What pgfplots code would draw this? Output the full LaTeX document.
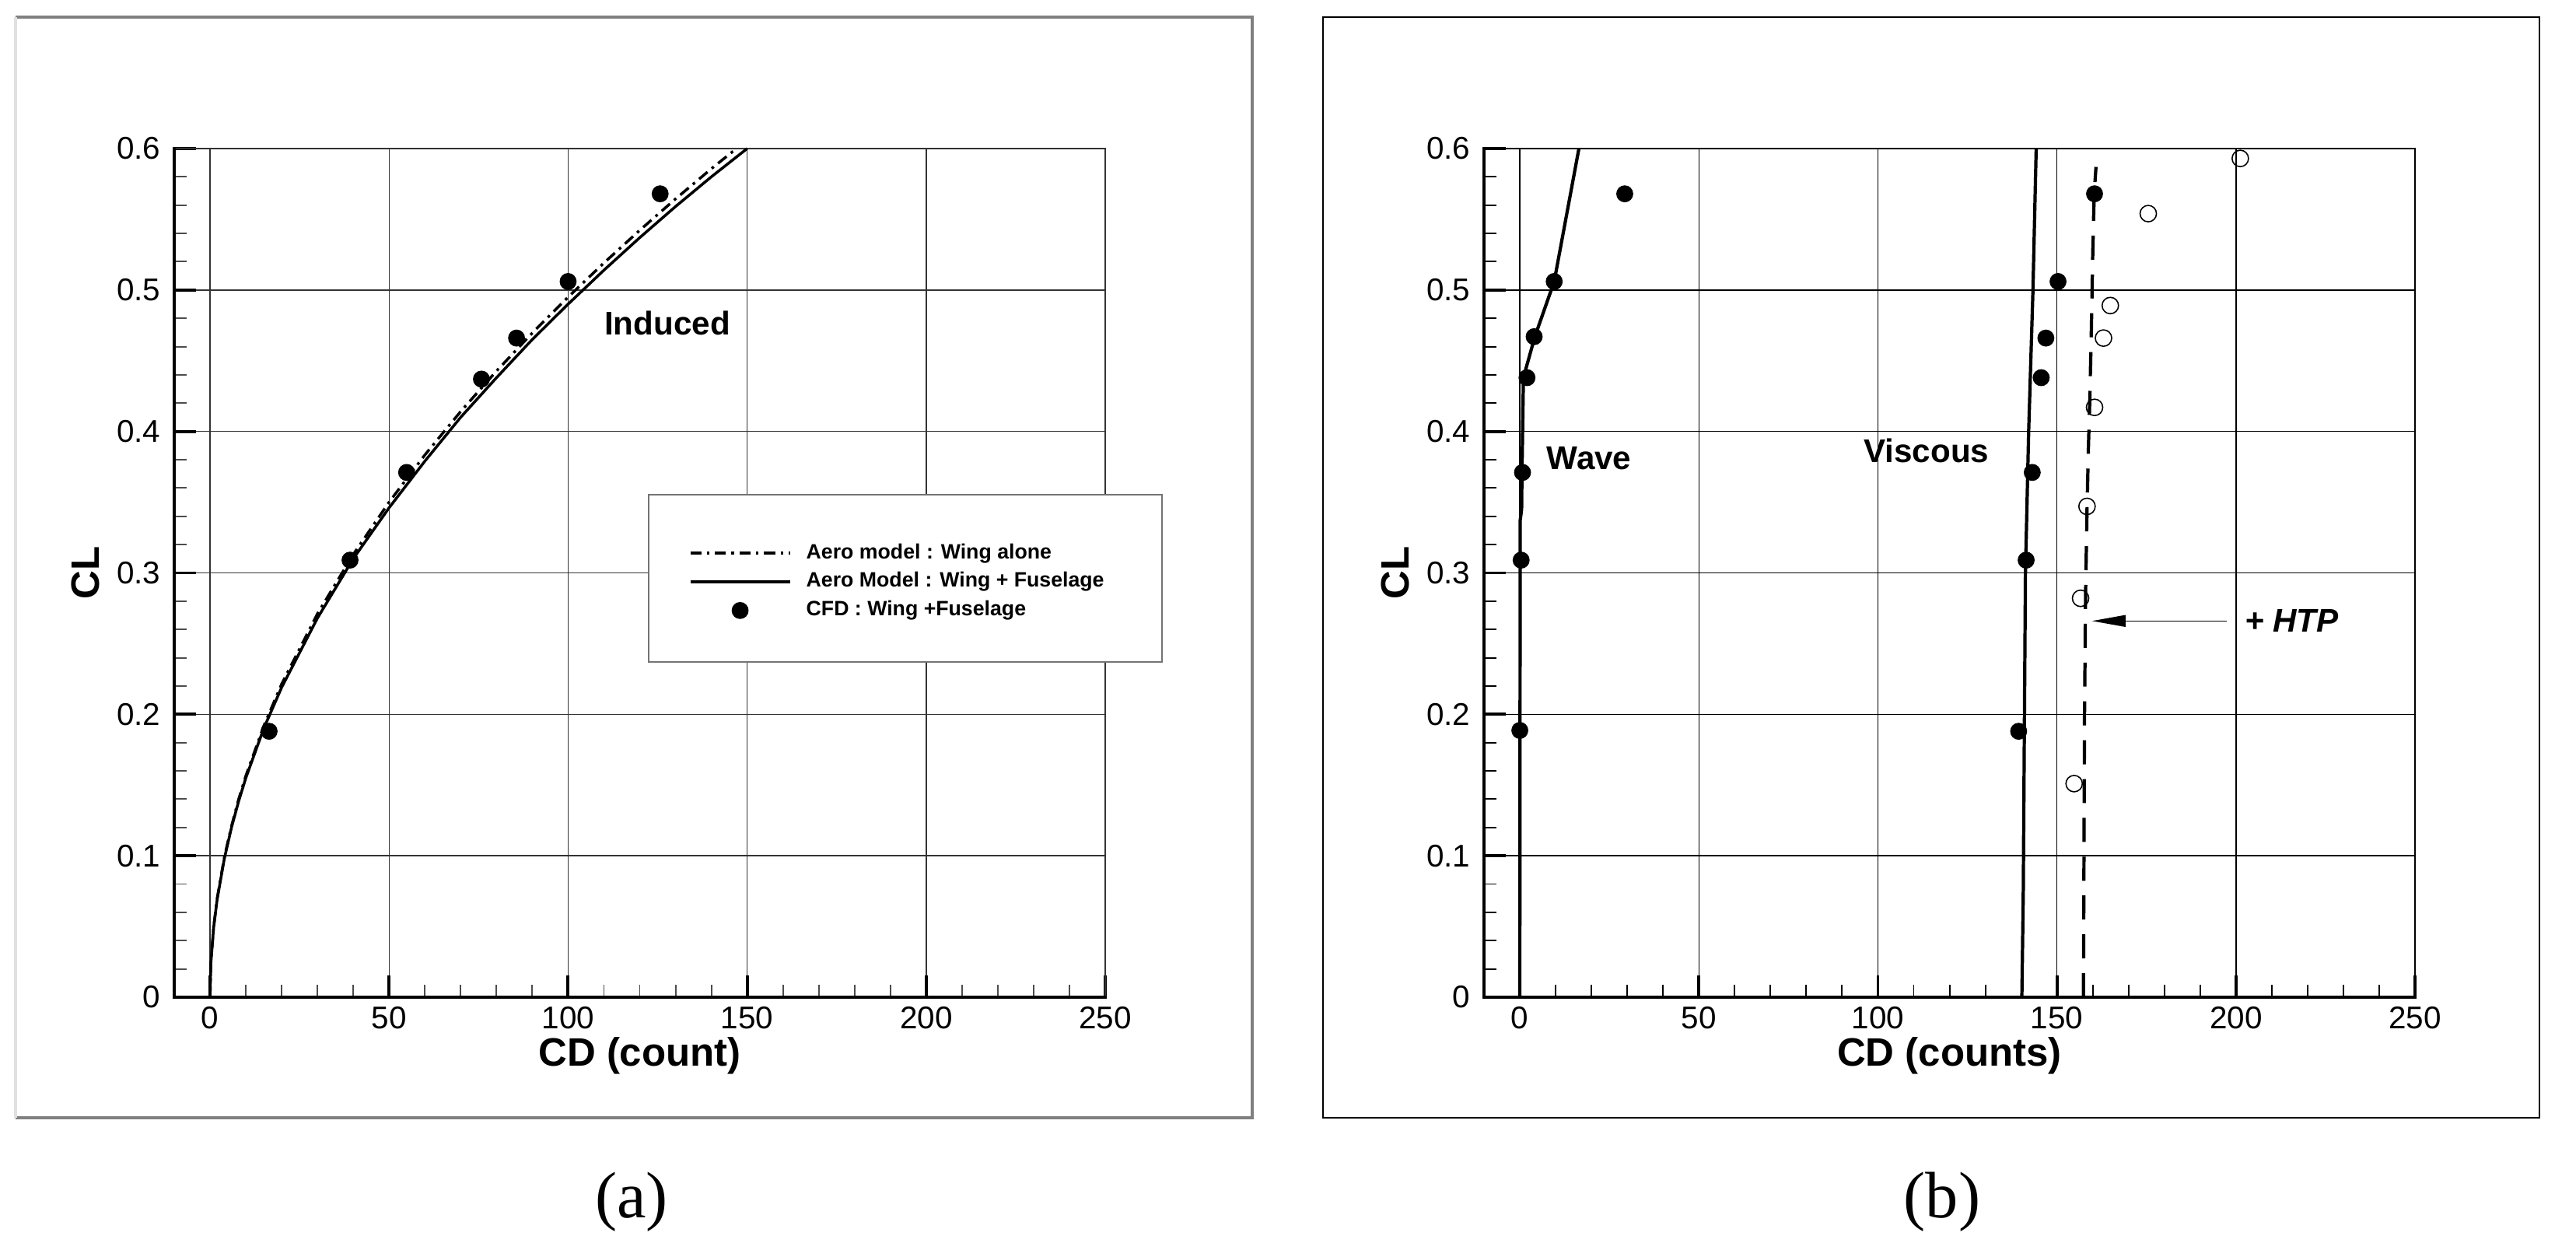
\documentclass[border=0pt]{standalone}
\usepackage{fontspec}
\setmainfont{Liberation Sans}
\newfontfamily\capfont{Liberation Serif}
\usepackage{pgfplots}
\pgfplotsset{compat=1.18}
\usetikzlibrary{arrows.meta}

\tikzset{notes/.style={font=\bfseries\fontsize{12}{14}\selectfont, inner sep=0pt}}

\pgfplotsset{
  dragaxis/.style={
    scale only axis, width=11.97cm, height=10.91cm,
    xmin=-10, xmax=250, ymin=0, ymax=0.6,
    xtick={0,50,100,150,200,250},
    xticklabels={0,50,100,150,200,250},
    ytick={0,0.1,0.2,0.3,0.4,0.5,0.6},
    yticklabels={0,0.1,0.2,0.3,0.4,0.5,0.6},
    minor xtick={10,20,30,40,60,70,80,90,110,120,130,140,160,170,180,190,210,220,230,240},
    minor ytick={0.02,0.04,0.06,0.08,0.12,0.14,0.16,0.18,0.22,0.24,0.26,0.28,
      0.32,0.34,0.36,0.38,0.42,0.44,0.46,0.48,0.52,0.54,0.56,0.58},
    xtick pos=bottom, ytick pos=left, tick align=inside,
    axis line style={line width=0.4pt},
    extra description/.code={
      \draw[line width=1.1pt, line cap=rect] (rel axis cs:0,1) -- (rel axis cs:0,0) -- (rel axis cs:1,0);
    },
    major tick length=0.28cm, minor tick length=0.16cm,
    major tick style={line width=1.1pt, black},
    minor tick style={line width=0.55pt, black},
    grid=major,
    major grid style={line width=0.4pt, black},
    tick label style={font=\fontsize{11.5}{13}\selectfont},
    yticklabel style={xshift=-1.5pt},
    xlabel style={at={(axis description cs:0.5,-0.0687)}, anchor=center,
      font=\bfseries\fontsize{14.5}{16}\selectfont},
    ylabel style={at={(axis description cs:-0.0952,0.5)}, anchor=center,
      font=\bfseries\fontsize{14.5}{16}\selectfont},
    clip=false,
  },
}

\begin{document}
\begin{tikzpicture}
\useasboundingbox (0,0) rectangle (33.12,15.89);
% panel frames
\draw[black!50, line width=0.9pt] (0.20,15.67) -- (16.10,15.67) -- (16.10,1.52) -- (0.20,1.52);
\draw[black!12, line width=0.9pt] (0.20,15.67) -- (0.20,1.52);
\draw[black, line width=0.7pt] (17.01,1.52) rectangle (32.65,15.67);

% (a) induced drag
\begin{axis}[dragaxis, at={(2.24cm,3.07cm)}, anchor=south west,
  xlabel={CD (count)}, ylabel={CL},
  major grid style={line width=0.4pt, black!80},
  minor tick style={line width=0.55pt, black!70},
  axis line style={line width=0.4pt, black!80},
  legend cell align=left,
  legend style={at={(axis cs:133.6,0.2937)}, anchor=west, draw=none, fill=none,
    inner sep=0pt, font=\bfseries\fontsize{7.6}{8}\selectfont,
    row sep=1.5pt, column sep=4.5pt, nodes={inner sep=1pt}},
  legend image code/.code={\draw[mark repeat=2,mark phase=2,#1]
    plot coordinates {(0cm,0cm) (0.64cm,0cm) (1.28cm,0cm)};},
]
\draw[black!55, fill=white, line width=0.6pt]
  (axis cs:122.5,0.3553) rectangle (axis cs:265.9,0.237);

\addplot[black, line width=1pt, dash pattern=on 4pt off 2pt on 1pt off 2pt] coordinates {
  (0,0) (0.25,0.0247) (1,0.0495) (2,0.070) (4,0.099) (6,0.121) (8,0.140)
  (10,0.1565) (15,0.1917) (20,0.2214) (30,0.2711) (40,0.313) (50,0.350)
  (60,0.3834) (70,0.4141) (80,0.4427) (90,0.4696) (100,0.495) (110,0.5191)
  (120,0.5422) (130,0.5644) (140,0.5857) (147,0.600)
};
\addlegendentry{Aero model : Wing alone}

\addplot[black, line width=1pt] coordinates {
  (0,0) (0.25,0.0245) (1,0.049) (2,0.0693) (4,0.098) (6,0.120) (8,0.1386)
  (10,0.155) (15,0.190) (20,0.219) (30,0.268) (40,0.310) (50,0.346)
  (60,0.379) (70,0.410) (80,0.438) (90,0.465) (100,0.490) (110,0.514)
  (120,0.537) (130,0.559) (140,0.580) (150,0.600)
};
\addlegendentry{Aero Model : Wing + Fuselage}

\addplot[only marks, mark=*, mark size=2.9pt, black] coordinates {
  (16.5,0.188) (39.1,0.309) (54.9,0.371) (75.8,0.437) (85.6,0.466)
  (100,0.506) (125.7,0.568)
};
\addlegendentry{CFD : Wing +Fuselage}

\node[notes, anchor=west] at (axis cs:110,0.4765) {Induced};
\end{axis}

% (b) wave, viscous and HTP drag
\begin{axis}[dragaxis, at={(19.08cm,3.07cm)}, anchor=south west,
  xlabel={CD (counts)}, ylabel={CL}]
% wave
\addplot[black, line width=1.2pt] coordinates {
  (0,0) (0.1,0.337) (0.5,0.345) (0.6,0.37) (1.0,0.438) (4.2,0.467)
  (9.6,0.506) (16.5,0.6)
};
\addplot[only marks, mark=*, mark size=2.9pt, black] coordinates {
  (0,0.1886) (0.37,0.309) (0.75,0.371) (2.0,0.438) (4.0,0.467)
  (9.6,0.506) (29.3,0.568)
};
% viscous
\addplot[black, line width=1.2pt] coordinates {
  (140.2,0) (140.6,0.075) (140.9,0.19) (141.2,0.30) (142.1,0.40)
  (143.3,0.50) (144.2,0.6)
};
\addplot[only marks, mark=*, mark size=2.9pt, black] coordinates {
  (139.3,0.188) (141.4,0.309) (143.1,0.371) (145.6,0.438) (146.9,0.466)
  (150.3,0.506) (160.5,0.568)
};
% + HTP
\addplot[black, line width=1.2pt, dash pattern=on 8.8pt off 5.4pt] coordinates {
  (157.4,0) (157.7,0.2) (158.0,0.286) (158.4,0.345) (158.8,0.39)
  (159.2,0.425) (159.6,0.471) (160.0,0.526) (160.4,0.568) (160.9,0.587)
};
\addplot[only marks, mark=o, mark size=3pt, black, mark options={fill=white, line width=0.45pt}] coordinates {
  (154.8,0.151) (156.6,0.282) (158.4,0.347) (160.5,0.417) (163.0,0.466)
  (164.9,0.489) (175.5,0.554) (201.2,0.593)
};
\draw[-{Triangle[length=0.43cm,width=0.15cm]}, line width=0.45pt]
  (axis cs:197.5,0.266) -- (axis cs:159.8,0.266);
\node[notes, anchor=west, font=\bfseries\itshape\fontsize{12}{14}\selectfont] at (axis cs:202.3,0.266) {+ HTP};
\node[notes, anchor=west] at (axis cs:7.4,0.381) {Wave};
\node[notes, anchor=west] at (axis cs:95.9,0.3865) {Viscous};
\end{axis}

\node[font=\capfont\fontsize{24}{26}\selectfont] at (8.12,0.44) {(a)};
\node[font=\capfont\fontsize{24}{26}\selectfont] at (24.97,0.44) {(b)};
\end{tikzpicture}
\end{document}
